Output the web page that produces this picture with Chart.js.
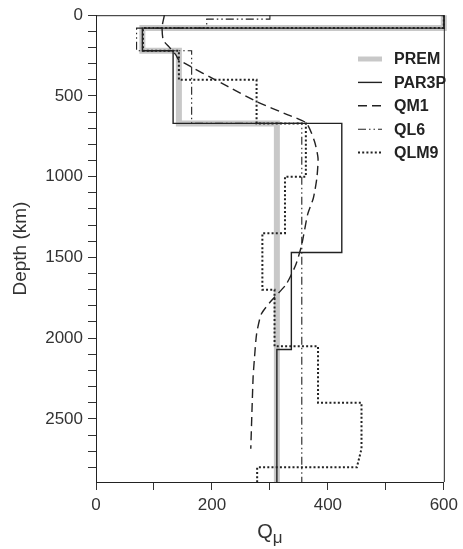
<!DOCTYPE html>
<html><head><meta charset="utf-8">
<script src="https://cdn.jsdelivr.net/npm/chart.js@4.4.1/dist/chart.umd.min.js"></script>
<style>html,body{margin:0;padding:0;background:#fff}#wrap{width:463px;height:549px}</style>
</head><body><div id="wrap"><canvas id="c" width="463" height="549"></canvas></div>
<script>
// ---- data (Q_mu vs depth in km) ----
const seriesNames = ['PREM', 'PAR3P', 'QM1', 'QL6', 'QLM9'];

const premQ     = [600, 600, 80, 80, 143, 143, 312, 312];
const premDepth = [0, 80, 80, 220, 220, 670, 670, 2891];

const par3pQ     = [600, 600, 80, 80, 133, 133, 424, 424, 337, 337, 312, 312];
const par3pDepth = [0, 80, 80, 220, 220, 670, 670, 1470, 1470, 2070, 2070, 2891];

const qm1Q     = [118, 114, 116, 126, 138, 143, 228, 277, 331, 363, 377, 383, 381, 375, 365, 355, 345, 328, 302, 285, 277, 273, 271, 267];
const qm1Depth = [0, 72, 154, 196, 247, 277, 443, 535, 617, 669, 782, 885, 1008, 1132, 1235, 1420, 1543, 1667, 1770, 1852, 1975, 2140, 2243, 2685];

const ql6Q     = [300, 300, 191, 191, 70, 70, 165, 165, 355, 355];
const ql6Depth = [0, 24, 24, 80, 80, 220, 220, 670, 670, 2891];

const qlm9Q     = [600, 600, 81, 81, 143, 143, 277, 277, 362, 362, 326, 326, 287, 287, 308, 308, 383, 383, 458, 458, 450, 278, 278];
const qlm9Depth = [0, 80, 80, 220, 220, 400, 400, 670, 670, 1000, 1000, 1350, 1350, 1700, 1700, 2050, 2050, 2400, 2400, 2685, 2800, 2800, 2891];

const xTickLabels = [0, 200, 400, 600];
const yTickLabels = [0, 500, 1000, 1500, 2000, 2500];
const xMinorStep = 100;
const yMinorStep = 100;
const xMax = 600;
const yMax = 2891;

function pts(q, d) { return q.map((v, i) => ({ x: v, y: d[i] })); }
function stepTicks(max, step) { const t = []; for (let v = 0; v <= max; v += step) t.push({ value: v }); return t; }

const INK = '#222';
const datasets = [
  { label: seriesNames[0], data: pts(premQ, premDepth), borderColor: '#c8c8c8', borderWidth: 6, order: 10 },
  { label: seriesNames[1], data: pts(par3pQ, par3pDepth), borderColor: INK, borderWidth: 1.4, order: 1 },
  { label: seriesNames[2], data: pts(qm1Q, qm1Depth), borderColor: INK, borderWidth: 1.4, borderDash: [9, 5], tension: 0.2, order: 2 },
  { label: seriesNames[3], data: pts(ql6Q, ql6Depth), borderColor: INK, borderWidth: 1.1, borderDash: [8, 3, 1.5, 3, 1.5, 3], order: 3 },
  { label: seriesNames[4], data: pts(qlm9Q, qlm9Depth), borderColor: INK, borderWidth: 2, borderDash: [2, 2.2], order: 4 }
].map(d => Object.assign({ showLine: true, pointRadius: 0, fill: false, clip: false }, d));

const FONT = "'Liberation Sans', Arial, Helvetica, sans-serif";

const extras = {
  id: 'extras',
  afterDatasetsDraw(chart) {
    const { ctx, chartArea: a } = chart;
    ctx.save();
    // frame top + right
    ctx.strokeStyle = INK; ctx.lineWidth = 1; ctx.setLineDash([]);
    ctx.beginPath();
    ctx.moveTo(a.left, a.top + 0.5); ctx.lineTo(a.right + 0.5, a.top + 0.5); ctx.lineTo(a.right + 0.5, a.bottom);
    ctx.stroke();
    // legend
    const x0 = 358, x1 = 382, tx = 394, y0 = 59, dy = 23.4;
    chart.data.datasets.forEach((ds, i) => {
      const y = y0 + i * dy;
      ctx.strokeStyle = ds.borderColor;
      ctx.lineWidth = i === 0 ? 5 : ds.borderWidth;
      ctx.setLineDash(ds.borderDash || []);
      ctx.beginPath(); ctx.moveTo(x0, y); ctx.lineTo(x1, y); ctx.stroke();
      ctx.setLineDash([]);
      ctx.fillStyle = INK;
      ctx.font = "bold 16px " + FONT;
      ctx.textBaseline = 'middle'; ctx.textAlign = 'left';
      ctx.fillText(ds.label, tx, y + 1);
    });
    // x-axis title Q with subscript mu
    const cx = (a.left + a.right) / 2;
    ctx.fillStyle = '#333';
    ctx.textBaseline = 'alphabetic';
    ctx.font = "20px " + FONT;
    const wQ = ctx.measureText('Q').width;
    ctx.font = "17px " + FONT;
    const wM = ctx.measureText('\u03bc').width;
    const start = cx - (wQ + wM) / 2;
    ctx.font = "20px " + FONT;
    ctx.textAlign = 'left';
    ctx.fillText('Q', start, 538);
    ctx.font = "17px " + FONT;
    ctx.fillText('\u03bc', start + wQ, 543);
    ctx.restore();
  }
};

new Chart(document.getElementById('c'), {
  type: 'scatter',
  data: { datasets },
  options: {
    responsive: false,
    animation: false,
    events: [],
    layout: { padding: { top: 13, right: 15, left: 0, bottom: 0 } },
    plugins: { legend: { display: false }, tooltip: { enabled: false } },
    scales: {
      x: {
        type: 'linear', position: 'bottom', min: 0, max: xMax,
        afterFit(s) { s.height = 67; },
        afterBuildTicks(s) { s.ticks = stepTicks(xMax, xMinorStep); },
        border: { display: true, color: INK, width: 1 },
        grid: { drawOnChartArea: false, drawTicks: true, tickLength: 8, tickColor: '#333', tickWidth: 1 },
        ticks: {
          autoSkip: false, maxRotation: 0,
          padding: 5, color: '#333', font: { family: FONT, size: 17 },
          callback: v => xTickLabels.includes(v) ? String(v) : ''
        }
      },
      y: {
        type: 'linear', position: 'left', min: 0, max: yMax, reverse: true,
        afterFit(s) { s.width = 96; },
        afterBuildTicks(s) { s.ticks = stepTicks(yMax, yMinorStep); },
        border: { display: true, color: INK, width: 1 },
        grid: { drawOnChartArea: false, drawTicks: true, tickLength: 8, tickColor: '#333', tickWidth: 1 },
        ticks: {
          autoSkip: false,
          padding: 5, color: '#333', font: { family: FONT, size: 17 },
          callback: v => yTickLabels.includes(v) ? String(v) : ''
        },
        title: { display: true, text: 'Depth (km)', color: '#333', font: { family: FONT, size: 19 }, padding: { top: 9, bottom: 0 } }
      }
    }
  },
  plugins: [extras]
});
</script></body></html>
